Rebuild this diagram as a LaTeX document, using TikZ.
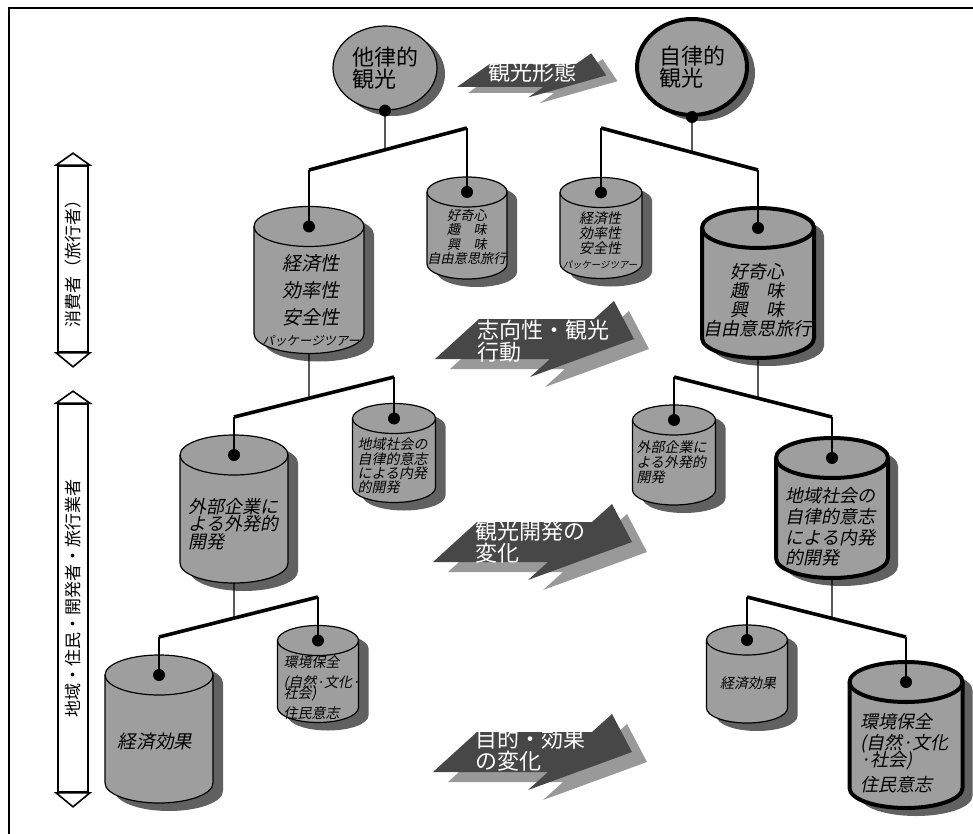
\documentclass[tikz,border=0pt]{standalone}
\usepackage{fontspec}
\newfontfamily\jp{Noto Sans CJK JP}
\newfontfamily\jpsl[FakeSlant=0.2]{Noto Sans CJK JP}
\usetikzlibrary{shapes.geometric, shadows, calc}

\tikzset{
  drumface/.style={draw, fill=black!38},
  drumshade/.style={fill=black!62},
  heavy/.style={line width=2pt},
  pics/drum/.style n args={3}{code={
    \fill[drumshade] (10-#1/2, 8-#2/2+#3) -- (10-#1/2, 8+#2/2-#3)
      arc[start angle=180, end angle=0, x radius=#1/2, y radius=#3] -- (10+#1/2, 8-#2/2+#3)
      arc[start angle=0, end angle=-180, x radius=#1/2, y radius=#3] -- cycle;
    \filldraw[drumface] (-#1/2, -#2/2+#3) -- (-#1/2, #2/2-#3)
      arc[start angle=180, end angle=0, x radius=#1/2, y radius=#3] -- (#1/2, -#2/2+#3)
      arc[start angle=0, end angle=-180, x radius=#1/2, y radius=#3] -- cycle;
    \draw (-#1/2, -#2/2+#3) arc[start angle=180, end angle=0, x radius=#1/2, y radius=#3];
    \coordinate (-top) at (0, -#2/2+#3);
    \coordinate (-bot) at (0, #2/2);
  }},
  bubble/.style={ellipse, draw, line width=0.6pt, fill=black!38, inner sep=0pt, align=left,
    font=\jp\fontsize{11}{10}\selectfont,
    drop shadow={shadow xshift=4pt, shadow yshift=-3pt, fill=black!62, opacity=1}},
  dot/.style={circle, fill=black, inner sep=0pt, minimum size=6pt},
  bar/.style={line width=1.8pt},
  stub/.style={line width=0.7pt},
  sidebar/.style={draw, fill=white, line width=0.8pt, rotate=90, minimum height=15pt, inner sep=0pt,
    font=\jp\fontsize{8.5}{8.5}\selectfont},
  sidehead/.style={draw, fill=white, line width=0.8pt},
  ribbonbody/.style={fill=black!72},
  ribbonshade/.style={fill=black!40},
  ribbontext/.style={text=white, inner sep=0pt, align=left, font=\jp\fontsize{11}{10}\selectfont},
  pics/ribbon/.style={code={
    \fill[ribbonshade] (15,10) -- (59,-30) -- (174,-30) -- (194,-48) -- (214,-10) -- (110,28) -- (130,10) -- cycle;
    \fill[ribbonbody] (0,0) -- (44,-40) -- (159,-40) -- (179,-58) -- (199,-20) -- (95,18) -- (115,0) -- cycle;
  }}
}

\begin{document}
\begin{tikzpicture}[x=0.5pt, y=-0.5pt, line width=0.6pt]
  \useasboundingbox (0,0) rectangle (973,834);
  \draw[line width=1pt] (9,834) -- (9,8) -- (973,8);

  % side labels
  \node[sidebar, minimum width=93pt] (consumer) at (73,259) {消費者（旅行者）};
  \node[sidebar, minimum width=194pt] (region) at (73,598) {地域・住民・開発者・旅行業者};
  \foreach \b in {consumer, region} {
    \draw[sidehead] ($(\b.east)+(-17,0)$) -- ($(\b.east)+(0,-12)$) -- ($(\b.east)+(17,0)$) -- cycle;
    \draw[sidehead] ($(\b.west)+(-17,0)$) -- ($(\b.west)+(0,14)$) -- ($(\b.west)+(17,0)$) -- cycle;
  }

  % tourism types
  \node[bubble, minimum width=52pt, minimum height=42pt] (hetero) at (385,68) {他律的\\観光};
  \node[bubble, heavy, minimum width=55pt, minimum height=48pt] (auto) at (692,67) {自律的\\観光};
  \foreach \t in {hetero, auto} {
    \coordinate (\t-top) at (\t.center);
    \coordinate (\t-bot) at (\t.south);
  }

  % ribbons
  \pic[xscale=0.75, yscale=0.58] at (457,87) {ribbon};
  \pic at (435,359) {ribbon};
  \pic at (433,562) {ribbon};
  \pic at (433,772) {ribbon};
  \node[ribbontext] (form) at (532,72) {観光形態};
  \node[ribbontext, anchor=west] (behaviour) at (477,341) {志向性・観光\\行動};
  \node[ribbontext, anchor=west] (development) at (475,542) {観光開発の\\変化};
  \node[ribbontext, anchor=west] (effect) at (475,750) {目的・効果\\の変化};

  % drums
  \pic (h1) at (309,280) {drum={110}{147}{20}};
  \pic (h2) at (467,228) {drum={80}{102}{15}};
  \pic (a1) at (601,228) {drum={82}{101}{15}};
  \pic[heavy] (a2) at (758,283) {drum={112}{150}{20}};
  \pic (h3) at (234,509) {drum={108}{148}{20}};
  \pic (h4) at (394,453) {drum={83}{99}{15}};
  \pic (a3) at (674,455) {drum={83}{100}{15}};
  \pic[heavy] (a4) at (832,508) {drum={112}{140}{20}};
  \pic (h5) at (159,729) {drum={108}{148}{20}};
  \pic (h6) at (318,674) {drum={81}{97}{15}};
  \pic (a5) at (747,674) {drum={81}{98}{15}};
  \pic[heavy] (a6) at (906,735) {drum={113}{146}{20}};

  % drum texts
  \node[inner sep=0pt, align=center, font=\jpsl\fontsize{9.5}{13.5}\selectfont] (h1txt) at (311,300)
    {経済性\\効率性\\安全性\\[-3pt]{\fontsize{6.2}{6.2}\selectfont パッケージツアー}};
  \node[inner sep=0pt, align=center, font=\jpsl\fontsize{6.6}{7.2}\selectfont] (h2txt) at (467,237)
    {好奇心\\趣　味\\興　味\\自由意思旅行};
  \node[inner sep=0pt, align=center, font=\jpsl\fontsize{7}{7.5}\selectfont] (a1txt) at (600,240)
    {経済性\\効率性\\安全性\\{\fontsize{4.7}{4.7}\selectfont パッケージツアー}};
  \node[inner sep=0pt, align=center, font=\jpsl\fontsize{9}{9.5}\selectfont] (a2txt) at (757,300)
    {好奇心\\趣　味\\興　味\\自由意思旅行};
  \node[inner sep=0pt, align=left, anchor=west, font=\jpsl\fontsize{9}{8.8}\selectfont] (h3txt) at (188,524)
    {外部企業に\\よる外発的\\開発};
  \node[inner sep=0pt, align=left, anchor=west, font=\jpsl\fontsize{7}{7.2}\selectfont] (h4txt) at (357,466)
    {地域社会の\\自律的意志\\による内発\\的開発};
  \node[inner sep=0pt, align=left, anchor=west, font=\jpsl\fontsize{7}{7.5}\selectfont] (a3txt) at (636,462)
    {外部企業に\\よる外発的\\開発};
  \node[inner sep=0pt, align=left, anchor=west, font=\jpsl\fontsize{9}{10.3}\selectfont] (a4txt) at (785,527)
    {地域社会の\\自律的意志\\による内発\\的開発};
  \node[inner sep=0pt, font=\jpsl\fontsize{9.3}{9.3}\selectfont] (h5txt) at (155,742) {経済効果};
  \node[inner sep=0pt, align=left, anchor=west, font=\jpsl\fontsize{7}{10}\selectfont] (h6txt) at (283,688)
    {環境保全\\(自然·文化·\\[-4.5pt]社会)\\住民意志};
  \node[inner sep=0pt, font=\jpsl\fontsize{7}{7}\selectfont] (a5txt) at (748,683) {経済効果};
  \node[inner sep=0pt, align=left, anchor=west, font=\jpsl\fontsize{9}{10.5}\selectfont] (a6txt) at (860,753)
    {環境保全\\(自然·文化\\[-2pt]·社会)\\[2pt]住民意志};

  % trees
  \foreach \p/\l/\r/\ly/\ry in {hetero/h1/h2/170/128, auto/a1/a2/128/170,
      h1/h3/h4/417/377, a2/a3/a4/377/417,
      h3/h5/h6/637/597, a4/a5/a6/597/637} {
    \coordinate (\l-end) at (\l-top |- 0,\ly);
    \coordinate (\r-end) at (\r-top |- 0,\ry);
    \draw[bar] (\l-end) -- (\r-end);
    \draw[stub] (\p-bot) -- (intersection of \p-top--\p-bot and \l-end--\r-end);
    \draw[stub] (\l-end) -- (\l-top);
    \draw[stub] (\r-end) -- (\r-top);
  }
  \foreach \c in {h1, h2, a1, a2, h3, h4, a3, a4, h5, h6, a5, a6}
    \node[dot] (\c-dot) at (\c-top) {};
  \node[dot] (hetero-dot) at (hetero-bot) {};
  \node[dot] (auto-dot) at (auto-bot) {};
\end{tikzpicture}
\end{document}
